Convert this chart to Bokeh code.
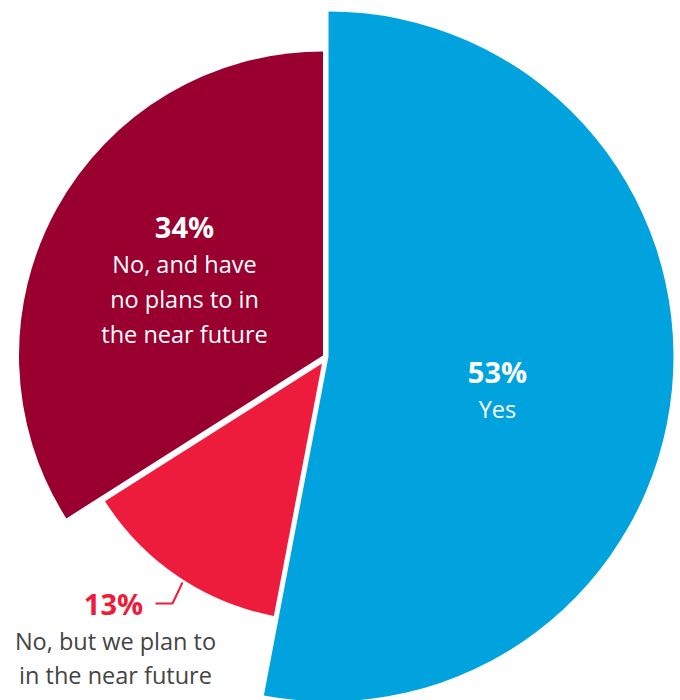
import math
from bokeh.plotting import figure
from bokeh.models import Range1d, ColumnDataSource
from bokeh.core.properties import value
from bokeh.embed import file_html
from bokeh.resources import INLINE

# ---- data ----
categories = ["Yes", "No, but we plan to in the near future", "No, and have no plans to in the near future"]
shares = [53, 13, 34]
label_lines = [["Yes"], ["No, but we plan to", "in the near future"], ["No, and have", "no plans to in", "the near future"]]

# ---- styling / layout ----
colors = ["#00a3de", "#ed1c3c", "#990030"]
W, H = 680, 700
# pixel-space centers and radii of each (exploded) wedge
centers_px = [(328.0, 356.0), (321.5, 363.0), (322.5, 355.0)]
radii = [345, 257, 304]
FONT = "Open Sans"
PCT_SIZE = 29
BODY_SIZE = 23.5

p = figure(width=W, height=H, output_backend="svg", toolbar_location=None,
           x_range=Range1d(0, W), y_range=Range1d(0, H), min_border=0)
p.axis.visible = False
p.grid.visible = False
p.outline_line_color = None
p.background_fill_color = "white"
p.border_fill_color = "white"

total = float(sum(shares))
cum = 0.0
xs, ys, starts, ends = [], [], [], []
for i, s in enumerate(shares):
    a0 = cum / total * 2 * math.pi
    cum += s
    a1 = cum / total * 2 * math.pi
    cx, cy = centers_px[i]
    xs.append(cx)
    ys.append(H - cy)
    starts.append(math.pi / 2 - a0)
    ends.append(math.pi / 2 - a1)

src = ColumnDataSource(dict(x=xs, y=ys, r=radii, s=starts, e=ends, c=colors, cat=categories))
p.wedge(x="x", y="y", radius="r", start_angle="s", end_angle="e", direction="clock",
        fill_color="c", line_color=None, source=src)

def txt(x, y, t, size, color, bold=False):
    p.text(x=[x], y=[H - y], text=[t], text_font=value(FONT), text_font_size=f"{size}px",
           text_color=color, text_align="center", text_baseline="middle",
           text_font_style="bold" if bold else "normal")

# Yes label
txt(497, 371, f"{shares[0]}%", PCT_SIZE, "white", bold=True)
txt(497, 408, label_lines[0][0], BODY_SIZE, "white")

# 34% label
txt(184, 226, f"{shares[2]}%", PCT_SIZE, "white", bold=True)
for k, line in enumerate(label_lines[2]):
    txt(184, 263 + 35 * k, line, BODY_SIZE, "white")

# 13% label (outside)
txt(113, 603, f"{shares[1]}%", PCT_SIZE, colors[1], bold=True)
for k, line in enumerate(label_lines[1]):
    txt(115, 640 + 34 * k, line, BODY_SIZE, "#444444")
p.line(x=[155, 172, 182], y=[H - 603, H - 603, H - 582], line_color=colors[1], line_width=2)

open("out.html", "w").write(file_html(p, INLINE))
